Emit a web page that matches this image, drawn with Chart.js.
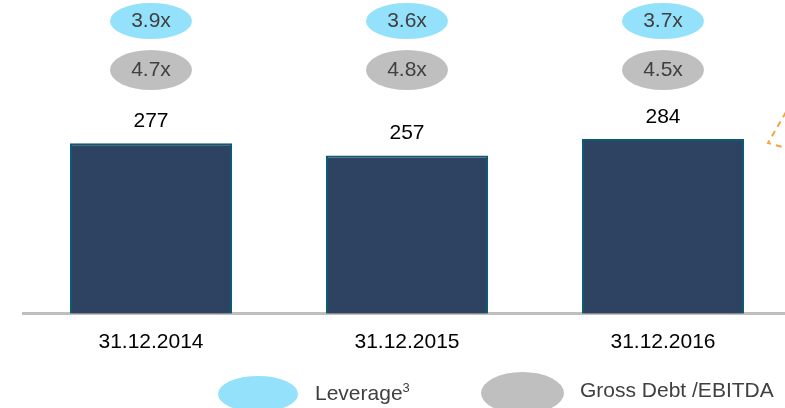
<!DOCTYPE html>
<html>
<head>
<meta charset="utf-8">
<script src="https://cdn.jsdelivr.net/npm/chart.js@4"></script>
<style>
  html, body { margin: 0; padding: 0; background: #fff; overflow: hidden; width: 785px; height: 408px; }
  #wrap { position: absolute; left: 0; top: 0; width: 800px; height: 377px; }
  .leg { position: absolute; font-family: "Liberation Sans", Arial, sans-serif; font-size: 21px; color: #404040; }
  .ell { position: absolute; border-radius: 50%; }
  sup { font-size: 13px; }
</style>
</head>
<body>
<div id="wrap"><canvas id="grafica"></canvas></div>
<div class="ell" style="left:218px; top:376px; width:80px; height:36px; background:#94e1fc;"></div>
<div class="leg" style="left:315px; top:380px;">Leverage<sup>3</sup></div>
<div class="ell" style="left:481px; top:372px; width:83px; height:42px; background:#bfbfbf;"></div>
<div class="leg" style="left:580px; top:378px;">Gross Debt /EBITDA</div>
<script>
// Datos
const fechas = ['31.12.2014', '31.12.2015', '31.12.2016'];
const deuda = [277, 257, 284];
const leverage = ['3.9x', '3.6x', '3.7x'];
const grossDebtEbitda = ['4.7x', '4.8x', '4.5x'];

const fuente = '"Liberation Sans", Arial, sans-serif';

// Plugin para dibujar etiquetas y elipses encima de las barras
const etiquetas = {
    id: 'etiquetas',
    afterDatasetsDraw(chart) {
        const ctx = chart.ctx;
        const meta = chart.getDatasetMeta(0);
        ctx.save();
        ctx.textAlign = 'center';
        ctx.textBaseline = 'middle';
        meta.data.forEach((bar, i) => {
            // valor encima de la barra
            ctx.fillStyle = '#000';
            ctx.font = '21px ' + fuente;
            ctx.fillText(deuda[i], bar.x, bar.y - 22);

            // elipse azul (leverage)
            ctx.fillStyle = '#94e1fc';
            ctx.beginPath();
            ctx.ellipse(bar.x, 21, 41, 18, 0, 0, Math.PI * 2);
            ctx.fill();
            // elipse gris (gross debt / ebitda)
            ctx.fillStyle = '#bfbfbf';
            ctx.beginPath();
            ctx.ellipse(bar.x, 70, 41, 20, 0, 0, Math.PI * 2);
            ctx.fill();

            ctx.fillStyle = '#404040';
            ctx.font = '21px ' + fuente;
            ctx.fillText(leverage[i], bar.x, 21);
            ctx.fillText(grossDebtEbitda[i], bar.x, 70);
        });

        // trozo de flecha naranja discontinua en el borde derecho
        ctx.strokeStyle = '#f4a340';
        ctx.lineWidth = 2;
        ctx.setLineDash([6, 5]);
        ctx.beginPath();
        ctx.moveTo(786, 112);
        ctx.lineTo(768, 143);
        ctx.lineTo(786, 148);
        ctx.stroke();
        ctx.restore();
    }
};

new Chart(document.getElementById('grafica'), {
    type: 'bar',
    data: {
        labels: fechas,
        datasets: [{
            data: deuda,
            backgroundColor: '#2e4262',
            borderColor: '#0b5c73',
            borderWidth: 2,
            barPercentage: 0.633,
            categoryPercentage: 1
        }]
    },
    options: {
        responsive: true,
        maintainAspectRatio: false,
        animation: false,
        layout: { padding: { top: 6, left: 23, right: 9, bottom: 6 } },
        plugins: {
            legend: { display: false },
            tooltip: { enabled: false }
        },
        scales: {
            x: {
                grid: { display: false, drawTicks: false },
                border: { display: true, color: '#bfbfbf', width: 3 },
                ticks: { color: '#000', font: { size: 21, family: fuente }, padding: 16 }
            },
            y: {
                display: false,
                min: 0,
                max: 500
            }
        }
    },
    plugins: [etiquetas]
});
</script>
</body>
</html>
